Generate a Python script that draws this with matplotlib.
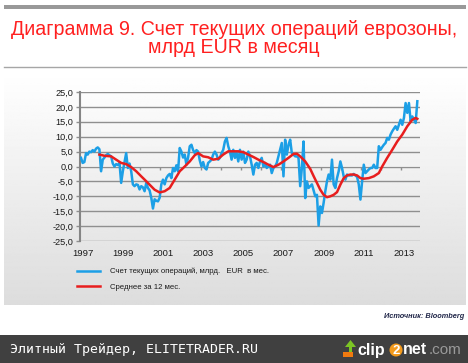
import matplotlib
matplotlib.use("Agg")
import matplotlib.pyplot as plt
import numpy as np
from matplotlib.patches import Rectangle, Polygon, Circle

# monthly current account, Jan 1997 .. Oct 2013 (bn EUR)
current_account = [
    2.9, 1.2, 1.5, 4.5, 4.0, 5.0, 4.8, 5.5, 5.0, 6.0, 6.4, 5.8,          # 1997
    -1.6, 2.3, 3.0, 3.8, 4.2, 3.8, 3.4, 1.0, 0.0, 0.8, 0.5, 1.2,         # 1998
    -5.5, -1.6, 1.5, 4.5, -0.5, 1.0, -1.6, -6.0, -6.6, -6.0, -6.2, -7.7, # 1999
    -6.6, -7.0, -8.3, -5.5, -7.2, -8.0, -10.5, -14.1, -11.0, -11.5, -11.7, -10.5,  # 2000
    -6.0, -4.4, -6.0, -3.9, -3.0, -2.5, -3.9, -0.5, -1.6, 0.4, -1.6, 6.2,  # 2001
    5.0, 3.0, 4.0, 0.6, 3.0, 6.8, 7.3, 5.5, 4.5, 5.5, 5.0, 2.0,          # 2002
    0.0, 1.5, -0.5, -1.0, 1.2, 1.7, 2.3, 4.0, 5.0, 4.0, 2.3, 2.9,        # 2003
    4.5, 5.6, 8.4, 9.6, 6.8, 5.0, 2.3, 5.6, 2.9, 4.5, 1.7, 5.6,          # 2004
    2.3, 5.0, 1.2, 2.3, 5.0, 3.4, 0.6, -2.7, 0.6, 1.2, -0.5, 1.7,        # 2005
    2.9, 0.0, 1.2, -0.5, 0.0, 0.6, -2.2, -0.5, 0.0, 1.2, 3.4, 5.6,       # 2006
    7.9, -3.3, 9.0, 4.0, 7.3, 9.0, 4.5, 4.0, 3.4, 3.4, 2.9, -6.6,        # 2007
    -0.5, 8.4, -10.6, -5.0, -7.2, -6.6, -6.0, -8.0, -10.0, -9.5, -19.8, -13.4,  # 2008
    -15.6, -12.2, -8.3, -5.0, -2.7, -4.4, 2.3, -6.0, -7.2, -3.9, -1.6, 1.7,    # 2009
    -0.5, -3.3, -4.4, -2.7, -3.0, -3.0, -3.0, -2.5, -3.0, -3.5, -6.0, -11.1,   # 2010
    -5.0, 0.6, -2.2, -1.6, -1.0, -0.5, -0.5, 0.6, -0.5, -0.5, 6.8, 5.6,  # 2011
    6.5, 7.3, 7.9, 9.6, 9.0, 10.7, 11.8, 12.7, 13.5, 12.3, 14.0, 15.7,   # 2012
    14.0, 16.3, 21.3, 18.0, 21.3, 15.2, 16.8, 15.7, 14.6, 21.9,          # 2013
]

# 12-month average, read at these month numbers (0 = Jan 1997)
avg_month = [11, 14, 18, 21, 24, 27, 30, 33, 36, 38, 41, 44, 47, 50, 53, 56, 59,
             62, 65, 68, 70, 73, 76, 79, 82, 85, 88, 91, 94, 97, 100, 103, 106,
             109, 112, 115, 118, 121, 124, 127, 129, 131, 134, 137, 139, 141,
             143, 145, 147, 149, 151, 153, 155, 157, 159, 161, 163, 165, 167,
             169, 172, 175, 178, 180, 183, 186, 189, 192, 195, 198, 200, 201]
avg_value = [4.0, 3.6, 3.4, 2.3, 1.2, 0.8, -0.2, -1.6, -3.3, -4.4, -6.1, -7.8,
             -8.7, -8.3, -7.2, -4.4, -1.6, 0.0, 1.7, 3.8, 4.5, 3.4, 3.1, 2.3,
             2.6, 4.0, 5.1, 5.1, 5.1, 4.8, 4.0, 3.2, 2.3, 1.5, 0.6, -0.2, 0.6,
             1.7, 2.9, 4.2, 4.3, 3.4, 1.7, -0.8, -3.2, -5.5, -7.8, -9.5, -10.3,
             -10.0, -9.5, -8.6, -6.1, -3.9, -3.0, -2.7, -2.7, -3.0, -3.9, -4.1,
             -3.9, -3.3, -2.2, 0.0, 2.9, 5.6, 8.4, 10.7, 13.5, 15.7, 16.3, 16.0]

years = ['1997', '1999', '2001', '2003', '2005', '2007', '2009', '2011', '2013']
y_ticks = [-25, -20, -15, -10, -5, 0, 5, 10, 15, 20, 25]

title = 'Диаграмма 9. Счет текущих операций еврозоны,\nмлрд EUR в месяц'
label_blue = 'Счет текущих операций, млрд.   EUR  в мес.'
label_red = 'Среднее за 12 мес.'

W, H = 468, 363
fig = plt.figure(figsize=(W / 100, H / 100), dpi=100)
fig.patch.set_facecolor('white')

# decoration layer in pixel coordinates
deco = fig.add_axes([0, 0, 1, 1])
deco.set_xlim(0, W)
deco.set_ylim(H, 0)
deco.axis('off')

deco.add_patch(Rectangle((4, 5), 462, 4, color='#999999', lw=0))
deco.plot([4, 466], [67, 67], color='#a6a6a6', lw=1)
deco.text(234, 38.5, title, ha='center', va='center', color='#ff2020',
          fontsize=14.1, family='Liberation Sans', linespacing=0.98)

grad = np.linspace(1.0, 0.865, 200)[:, None] * np.ones((1, 2))
deco.imshow(grad, extent=[4, 466, 305, 72], cmap='gray', vmin=0, vmax=1,
            aspect='auto', zorder=0)

deco.text(464, 316, 'Источник: Bloomberg', ha='right', va='center',
          fontsize=5.3, style='italic', weight='bold', color='#22284a',
          family='Liberation Sans')

# footer bar
deco.add_patch(Rectangle((0, 335), W, 28, color='#404040', lw=0))
deco.text(10, 350, 'Элитный Трейдер, ELITETRADER.RU', ha='left', va='center',
          color='white', fontsize=9.5, family='DejaVu Sans Mono')
deco.add_patch(Polygon([[349, 352], [349, 347], [345, 347], [350.5, 340],
                        [356, 347], [352, 347], [352, 352]],
                       closed=True, color='#7cc524', lw=0))
deco.add_patch(Rectangle((343, 352), 10, 5, color='#f07a10', lw=0))
deco.text(357, 350, 'clip', ha='left', va='center', color='white',
          fontsize=11.5, weight='bold', family='Liberation Sans')
deco.add_patch(Circle((396, 350), 6.5, color='#f39a1c', lw=0))
deco.text(396, 350.5, '2', ha='center', va='center', color='white',
          fontsize=9.5, weight='bold', family='Liberation Sans')
deco.text(403, 350, 'net', ha='left', va='center', color='white',
          fontsize=11.5, weight='bold', family='Liberation Sans')
deco.text(429, 350, '.com', ha='left', va='center', color='#9a9a9a',
          fontsize=11, family='Liberation Sans')

# chart
ax = fig.add_axes([80 / W, 1 - 241 / H, 340 / W, 149 / H])
ax.set_zorder(2)
ax.patch.set_alpha(0)

months = np.arange(len(current_account))
ax.plot(months, current_account, color='#1c9fe6', lw=1.8, zorder=3,
        label=label_blue)
ax.plot(avg_month, avg_value, color='#e81e1e', lw=1.8, zorder=4,
        label=label_red)

ax.set_xlim(-0.6, 202.6)
ax.set_ylim(-25, 25)
ax.set_yticks(y_ticks)
ax.set_yticklabels([f'{v:.1f}'.replace('.', ',') for v in y_ticks])
ax.yaxis.grid(True, color='#8f8f8f', lw=1)
ax.set_axisbelow(True)
ax.set_xticks([24 * i + 1 for i in range(len(years))])
ax.set_xticklabels(years)
ax.tick_params(axis='x', length=0, pad=6, labelsize=6.8, labelcolor='#1a1a1a')
ax.tick_params(axis='y', length=3, width=1, color='#8f8f8f', pad=2,
               labelsize=6.6, labelcolor='#1a1a1a')
for lab in ax.get_xticklabels() + ax.get_yticklabels():
    lab.set_family('Liberation Sans')
for side in ['top', 'right', 'bottom']:
    ax.spines[side].set_visible(False)
ax.spines['left'].set_color('#858585')
ax.spines['left'].set_linewidth(1.5)

# tick marks on the zero line
zero_ax = ax.secondary_xaxis(0.5)
zero_ax.set_xticks([12 * i + 11.5 for i in range(17)], labels=[''] * 17)
zero_ax.xaxis.set_ticks_position('bottom')
zero_ax.tick_params(length=2.5, width=1, color='#8f8f8f', direction='out',
                    labelbottom=False, labeltop=False)
for side in zero_ax.spines:
    zero_ax.spines[side].set_visible(False)

leg = ax.legend(loc='upper left', bbox_to_anchor=(77 / W, 1 - 268 / H),
                bbox_transform=fig.transFigure, frameon=False,
                prop={'family': 'Liberation Sans', 'size': 5.6},
                handlelength=3.0, handletextpad=1.3, labelspacing=1.05,
                borderpad=0, borderaxespad=0)
for t in leg.get_texts():
    t.set_color('#1a1a1a')

fig.savefig('out.png', dpi=100)
